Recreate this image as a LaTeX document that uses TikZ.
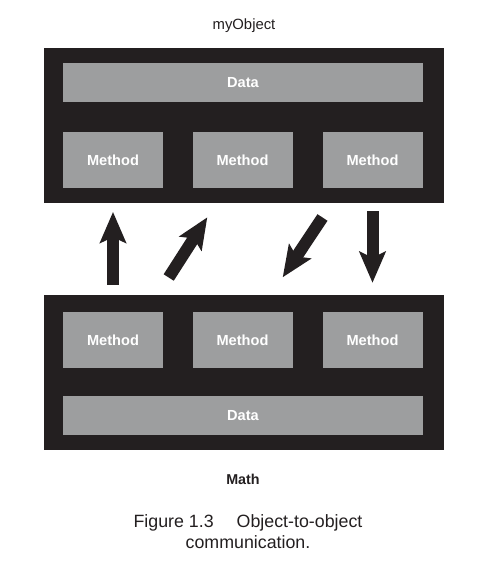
\documentclass[tikz,border=0pt]{standalone}
\usepackage{fontspec}
\setmainfont{Liberation Sans}
\usetikzlibrary{arrows.meta}

\definecolor{boxdark}{RGB}{35,31,32}
\definecolor{boxgray}{RGB}{157,158,159}

\tikzset{
  objbox/.style={fill=boxdark, draw=none, minimum width=400pt, minimum height=155pt, inner sep=0pt},
  databox/.style={fill=boxgray, draw=none, minimum width=360pt, minimum height=39pt, inner sep=0pt,
    text=white, font=\fontsize{14.6}{16}\selectfont\bfseries},
  methodbox/.style={fill=boxgray, draw=none, minimum width=100pt, minimum height=56pt, inner sep=0pt,
    text=white, font=\fontsize{14.6}{16}\selectfont\bfseries},
  bigarrow/.style={draw=boxdark, line width=12pt,
    -{Stealth[length=31pt, width=26pt, inset=6pt]}}
}

\begin{document}
\begin{tikzpicture}[x=1pt, y=-1pt]
\useasboundingbox (0,0) rectangle (503,575);

% object on top
\node[font=\fontsize{14.85}{17}\selectfont, text=boxdark] (objname) at (244,25.5) {myObject};
\node[objbox] (myobj) at (244,125.5) {};
\node[databox] (tdata) at (243,83) {Data};
\node[methodbox] (tm1) at (113,160) {Method};
\node[methodbox] (tm2) at (242.5,160) {Method};
\node[methodbox] (tm3) at (372.5,160) {Method};

% object below
\node[objbox] (mathobj) at (244,372.5) {};
\node[methodbox] (bm1) at (113,340) {Method};
\node[methodbox] (bm2) at (242.5,340) {Method};
\node[methodbox] (bm3) at (372.5,340) {Method};
\node[databox] (bdata) at (243,415.5) {Data};
\node[font=\fontsize{14.3}{16}\selectfont\bfseries, text=boxdark] (mathname) at (243,479) {Math};

% messages between the two
\coordinate (upfrom) at (168.7,277.5);
\coordinate (upto) at (207.3,217.3);
\coordinate (downfrom) at (322.5,217.5);
\coordinate (downto) at (282.7,277.3);

\draw[bigarrow, shorten <=27pt, shorten >=23.7pt] (bm1.north) -- (tm1.south);
\draw[bigarrow] (upfrom) -- (upto);
\draw[bigarrow] (downfrom) -- (downto);
\draw[bigarrow, shorten <=23pt, shorten >=29pt] (tm3.south) -- (bm3.north);

% caption
\node[font=\fontsize{17.8}{21}\selectfont, text=boxdark, align=center] (caption) at (248,532)
  {Figure 1.3\hspace{23pt}Object-to-object\\communication.};
\end{tikzpicture}
\end{document}
